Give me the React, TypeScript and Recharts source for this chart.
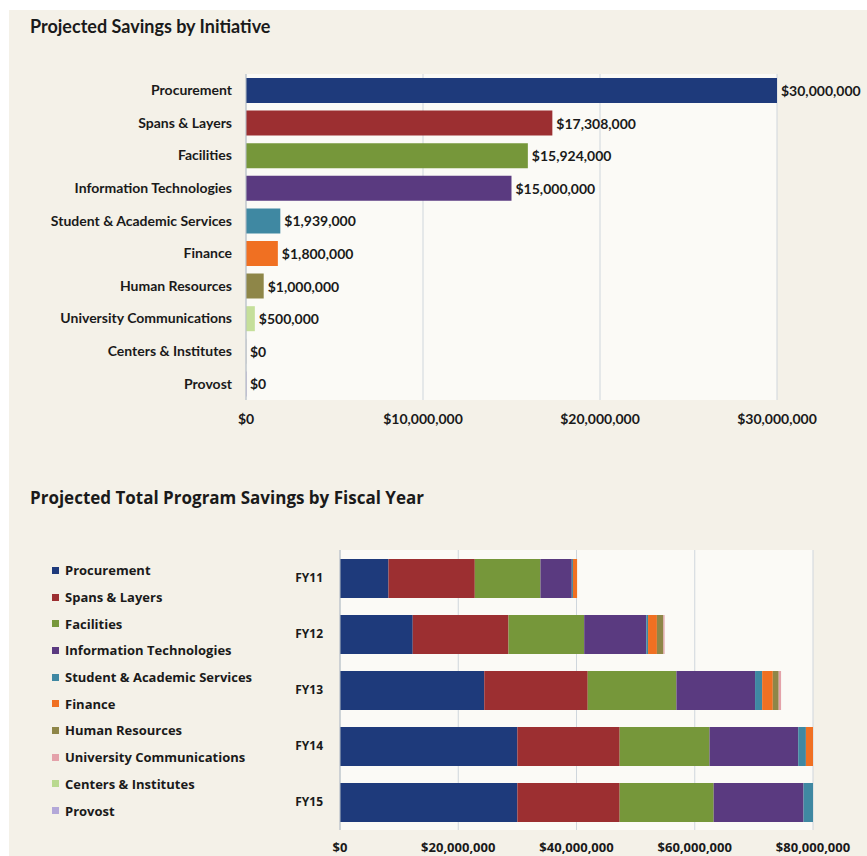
import React from 'react';
import { BarChart, Bar, XAxis, YAxis, CartesianGrid, Cell, LabelList, Legend } from 'recharts';

// Top chart: savings by initiative
const initiatives = [
  'Procurement',
  'Spans & Layers',
  'Facilities',
  'Information Technologies',
  'Student & Academic Services',
  'Finance',
  'Human Resources',
  'University Communications',
  'Centers & Institutes',
  'Provost',
];
const initiativeSavings = [30000000, 17308000, 15924000, 15000000, 1939000, 1800000, 1000000, 500000, 0, 0];
const initiativeColors = ['#1e3a7b', '#9c2f31', '#76973a', '#5a3a80', '#3f88a2', '#f07022', '#8e8648', '#c5df9a', '#d9d9d9', '#c9c0dd'];
const topTicks = [0, 10000000, 20000000, 30000000];

// Bottom chart: savings by fiscal year (stacked)
const fiscalYears = ['FY11', 'FY12', 'FY13', 'FY14', 'FY15'];
const procurement = [8200000, 12300000, 24400000, 30000000, 30000000];
const spansLayers = [14600000, 16200000, 17500000, 17300000, 17300000];
const facilities = [11100000, 12800000, 15000000, 15200000, 15900000];
const infoTech = [5300000, 10500000, 13300000, 15000000, 15200000];
const studentServices = [200000, 300000, 1200000, 1300000, 1600000];
const finance = [700000, 1500000, 1800000, 1200000, 0];
const humanResources = [0, 1100000, 1000000, 0, 0];
const univComms = [0, 200000, 400000, 0, 0];
const centers = [0, 0, 0, 0, 0];
const provost = [0, 0, 0, 0, 0];
const bottomTicks = [0, 20000000, 40000000, 60000000, 80000000];

const seriesColors = ['#1e3a7b', '#9c2f31', '#76973a', '#5a3a80', '#3f88a2', '#f07022', '#8e8648', '#e4a2aa', '#b9d98f', '#b3a8d8'];

const money = (v: number) => '$' + Number(v).toLocaleString('en-US');

const topData = initiatives.map((name, i) => ({ name, value: initiativeSavings[i] }));

const seriesList = [
  { key: 'Procurement', values: procurement },
  { key: 'Spans & Layers', values: spansLayers },
  { key: 'Facilities', values: facilities },
  { key: 'Information Technologies', values: infoTech },
  { key: 'Student & Academic Services', values: studentServices },
  { key: 'Finance', values: finance },
  { key: 'Human Resources', values: humanResources },
  { key: 'University Communications', values: univComms },
  { key: 'Centers & Institutes', values: centers },
  { key: 'Provost', values: provost },
];
const seriesOrder = seriesList.map(s => s.key);

const yearData = fiscalYears.map((fy, i) => {
  const row: Record<string, any> = { name: fy };
  seriesList.forEach(s => { row[s.key] = s.values[i]; });
  return row;
});

const boldText = { fontFamily: 'Lato, sans-serif', fontWeight: 700, fontSize: 14, fill: '#1a1a1a' };
const wideText = { fontFamily: '"Open Sans", sans-serif', fontWeight: 700, fontSize: 12, fill: '#1a1a1a' };
const wideTick = { ...wideText, fontSize: 13 };

const renderLegend = (props: any) => {
  const items = [...(props.payload || [])].sort(
    (a: any, b: any) => seriesOrder.indexOf(a.value) - seriesOrder.indexOf(b.value)
  );
  return (
    <div>
      {items.map((entry: any, i: number) => (
        <div key={`leg-${i}`} style={{ height: 26.7, display: 'flex', alignItems: 'center' }}>
          <span style={{ width: 7, height: 7, background: entry.color, marginRight: 6, display: 'inline-block' }} />
          <span style={{ fontFamily: '"Open Sans", sans-serif', fontWeight: 700, fontSize: 13, color: '#1a1a1a' }}>{entry.value}</span>
        </div>
      ))}
    </div>
  );
};

// value label drawn just right of the bar end
const renderValueLabel = (props: any) => {
  const { x, y, width, height, value } = props;
  const w = Number(value) === 0 ? 0 : Number(width || 0);
  return (
    <text
      x={Number(x) + w + 4}
      y={Number(y) + Number(height) / 2}
      dominantBaseline="central"
      style={boldText}
    >
      {money(value)}
    </text>
  );
};

const App: React.FC = () => {
  return (
    <div style={{ position: 'absolute', left: 0, top: 0, width: 867, height: 856, background: '#ffffff', overflow: 'hidden' }}>
      <div style={{ position: 'absolute', left: 9, top: 10, width: 858, height: 846, background: '#f4f1e8' }} />

      <div style={{ position: 'absolute', left: 30, top: 15, fontFamily: 'Lato, sans-serif', fontWeight: 700, fontSize: 18, color: '#1a1a1a' }}>
        Projected Savings by Initiative
      </div>

      <div style={{ position: 'absolute', left: 0, top: 40 }}>
        <BarChart
          width={867}
          height={420}
          data={topData}
          layout="vertical"
          margin={{ top: 34, right: 90, left: 0, bottom: 30 }}
          barSize={25}
        >
          <CartesianGrid horizontal={false} stroke="#cfd6dc" fill="#fbfaf6" />
          <XAxis
            type="number"
            domain={[0, 30000000]}
            ticks={topTicks}
            tickFormatter={money}
            axisLine={false}
            tickLine={false}
            tickMargin={8}
            height={30}
            interval={0}
            tick={boldText}
          />
          <YAxis
            type="category"
            dataKey="name"
            width={246}
            axisLine={{ stroke: '#b8bfc6' }}
            tickLine={false}
            tickMargin={8}
            interval={0}
            tick={boldText}
          />
          <Bar dataKey="value" isAnimationActive={false} minPointSize={1}>
            {topData.map((d, i) => (
              <Cell key={`c-${i}`} fill={initiativeColors[i]} />
            ))}
            <LabelList dataKey="value" content={renderValueLabel} />
          </Bar>
        </BarChart>
      </div>

      <div style={{ position: 'absolute', left: 30, top: 486, fontFamily: '"Open Sans", sans-serif', fontWeight: 700, fontSize: 17, color: '#1a1a1a' }}>
        Projected Total Program Savings by Fiscal Year
      </div>

      <div style={{ position: 'absolute', left: 0, top: 500 }}>
        <BarChart
          width={867}
          height={370}
          data={yearData}
          layout="vertical"
          margin={{ top: 50, right: 54, left: 0, bottom: 10 }}
          barSize={39}
        >
          <CartesianGrid horizontal={false} stroke="#cfd6dc" fill="#fbfaf6" />
          <XAxis
            type="number"
            domain={[0, 80000000]}
            ticks={bottomTicks}
            tickFormatter={money}
            axisLine={false}
            tickLine={false}
            tickMargin={7}
            height={30}
            interval={0}
            tick={wideTick}
          />
          <YAxis
            type="category"
            dataKey="name"
            width={340}
            axisLine={{ stroke: '#b8bfc6' }}
            tickLine={false}
            tickMargin={11}
            tick={wideText}
          />
          <Legend
            layout="vertical"
            align="center"
            verticalAlign="middle"
            content={renderLegend}
            wrapperStyle={{ position: 'absolute', left: 52, top: 57, width: 250 }}
          />
          {seriesList.map((s, i) => (
            <Bar key={s.key} dataKey={s.key} stackId="a" fill={seriesColors[i]} isAnimationActive={false} />
          ))}
        </BarChart>
      </div>
    </div>
  );
};

export default App;
